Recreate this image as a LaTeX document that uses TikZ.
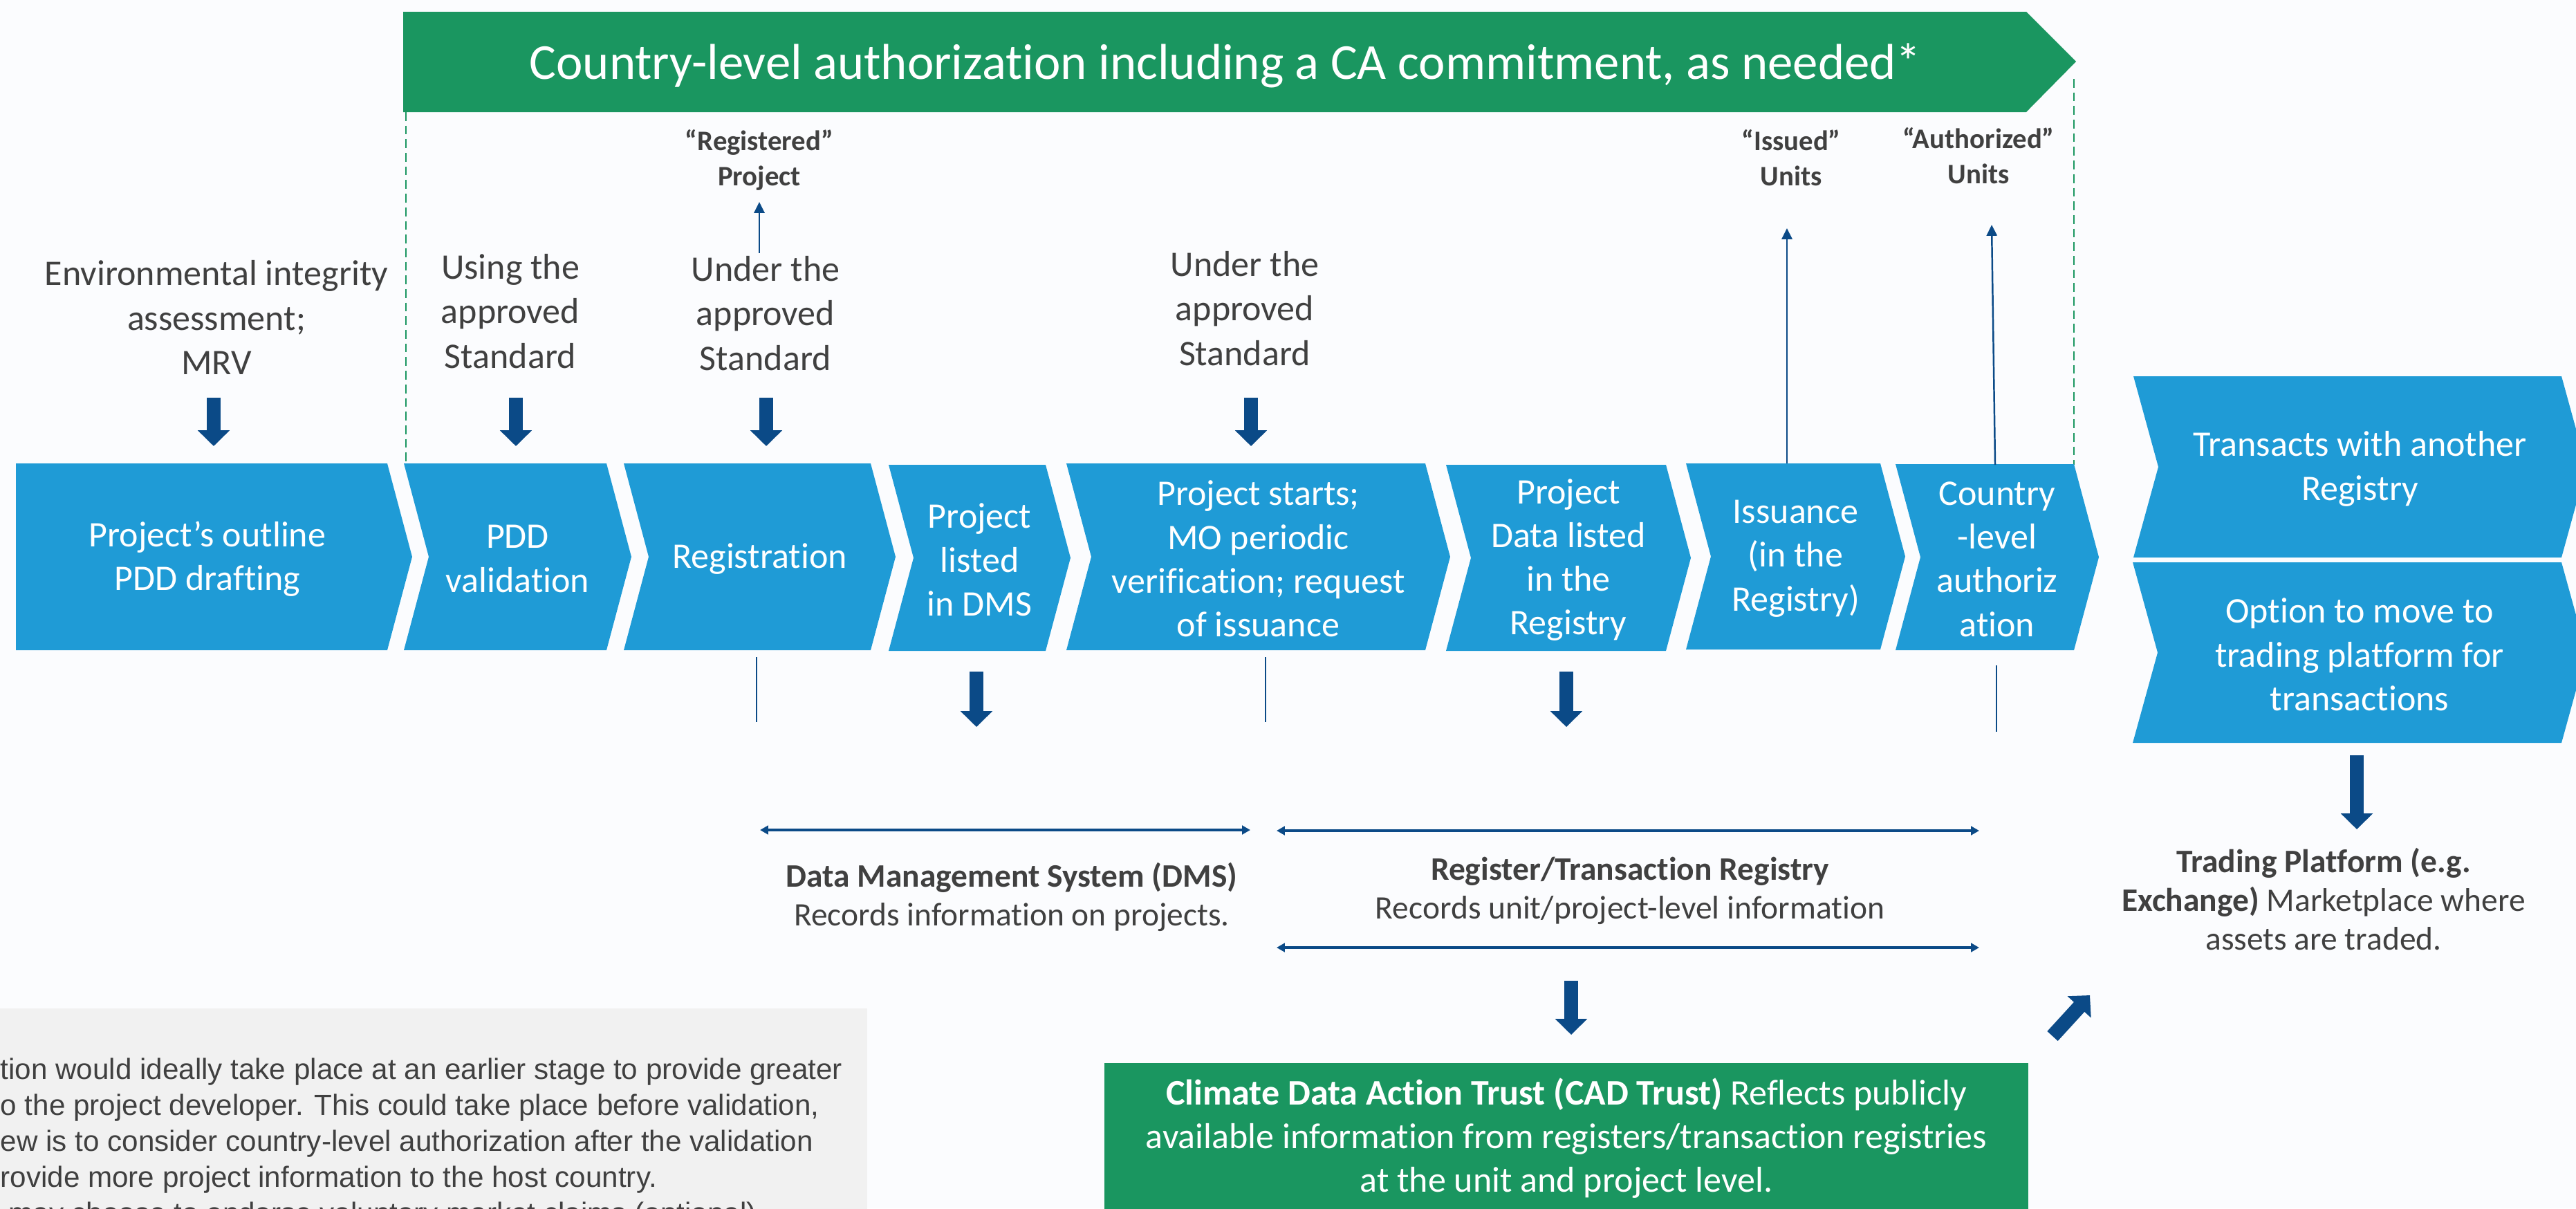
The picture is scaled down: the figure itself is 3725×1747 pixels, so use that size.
\documentclass[tikz,border=0pt]{standalone}
\usepackage{fontspec}
\setmainfont{Carlito}[Ligatures=NoCommon]
\newfontfamily\notefont{Liberation Sans}
\usetikzlibrary{arrows.meta}

\definecolor{chevblue}{RGB}{31,155,214}
\definecolor{bannergreen}{RGB}{26,150,96}
\definecolor{arrowblue}{RGB}{11,74,135}
\definecolor{textgray}{RGB}{64,64,64}
\definecolor{notegray}{RGB}{241,241,241}
\definecolor{pagebg}{RGB}{251,252,254}

\tikzset{
  bannertext/.style={text=white,inner sep=0pt,font=\fontsize{20.7}{24}\selectfont},
  chevtext/.style={text=white,align=center,inner sep=0pt,font=\fontsize{14.8}{18}\selectfont},
  annot/.style={text=textgray,align=center,inner sep=0pt,font=\fontsize{14.8}{18.4}\selectfont},
  unitlabel/.style={text=textgray,align=center,inner sep=0pt,font=\fontsize{11.6}{14.5}\selectfont\bfseries},
  infotext/.style={text=textgray,align=center,inner sep=0pt,font=\fontsize{13.5}{16}\selectfont},
  cadtext/.style={text=white,align=center,inner sep=0pt,font=\fontsize{14.8}{17.9}\selectfont},
  notetext/.style={text=textgray,align=left,inner sep=0pt,font=\notefont\fontsize{12}{14.8}\selectfont},
  bigarrow/.style={draw=arrowblue,line width=5.9pt,-{Triangle[width=12.8pt,length=6.5pt]}},
  thinarrow/.style={draw=arrowblue,line width=0.7pt,-{Triangle[width=4.3pt,length=4.5pt]}},
  spanarrow/.style={draw=arrowblue,line width=0.9pt,{Triangle[width=3.6pt,length=3.4pt]}-{Triangle[width=3.6pt,length=3.4pt]}},
  tick/.style={draw=arrowblue,line width=0.5pt},
  guide/.style={draw=bannergreen,line width=0.5pt,dash pattern=on 3.6pt off 2pt}
}

\begin{document}
\begin{tikzpicture}[x=0.01cm,y=-0.01cm]
\useasboundingbox (0,0) rectangle (3725,1747);
\clip (0,0) rectangle (3725,1747);
\fill[pagebg] (0,0) rectangle (3725,1747);

\fill[bannergreen] (583,17) -- (2930,17) -- (3002,89) -- (2930,162) -- (583,162) -- cycle;
\node[bannertext,anchor=base] (banner) at (1772,114) {Country-level authorization including a CA commitment, as needed*};
\draw[guide] (587,162) -- (587,670);
\draw[guide] (2999,114) -- (2999,672);

\fill[chevblue] (23,670) -- (560,670) -- (596,805) -- (560,940) -- (23,940) -- cycle;
\node[chevtext] (outline) at (300,808) {Project’s outline\\PDD drafting};
\foreach \xl/\xr/\yt/\yb/\nm/\txt in {
  584/877/670/940/pddval/{PDD\\validation},
  902/1259/670/940/registration/{Registration},
  1285/1512/672/941/listed/{Project\\listed\\in DMS},
  1542/2061/670/940/starts/{Project starts;\\MO periodic\\verification; request\\of issuance},
  2091/2409/672/941/datalisted/{Project\\Data listed\\in the\\Registry},
  2438/2719/670/939/issuance/{Issuance\\(in the\\Registry)},
  2741/2999/671/940/ctryauth/{Country\\-level\\authoriz\\ation},
  3085/3704/544/806/transacts/{Transacts with another\\Registry},
  3084/3704/813/1074/option/{Option to move to\\trading platform for\\transactions}}
{
  \fill[chevblue] (\xl,\yt) -- (\xr,\yt) -- ({\xr+36},{(\yt+\yb)/2}) -- (\xr,\yb) -- (\xl,\yb) -- ({\xl+36},{(\yt+\yb)/2}) -- cycle;
  \node[chevtext] (\nm) at ({(\xl+\xr+36)/2},{(\yt+\yb)/2+3}) {\txt};
}

\node[annot] (env) at (313,459) {Environmental integrity\\assessment;\\MRV};
\node[annot] (usingstd) at (738,450) {Using the\\approved\\Standard};
\node[annot] (understd) at (1107,453) {Under the\\approved\\Standard};
\node[annot] (understdb) at (1800,446) {Under the\\approved\\Standard};
\node[unitlabel] (regproj) at (1098,231) {“Registered”\\Project};
\node[unitlabel] (issued) at (2590,228) {“Issued”\\Units};
\node[unitlabel] (authunits) at (2861,225) {“Authorized”\\Units};

\coordinate (regfoot) at (1098,366);
\coordinate (reghead) at (1098,292);
\coordinate (issfoot) at (2584,670);
\coordinate (isshead) at (2584,330);
\coordinate (authfoot) at (2885,672);
\coordinate (authhead) at (2880,325);
\draw[thinarrow] (regfoot) -- (reghead);
\draw[thinarrow] (issfoot) -- (isshead);
\draw[thinarrow] (authfoot) -- (authhead);

\draw[tick] (1094,950) -- (1094,1044);
\draw[tick] (1830,950) -- (1830,1044);
\draw[tick] (2887,962) -- (2887,1058);

\coordinate (dmsleft) at (1099,1200);
\coordinate (dmsright) at (1808,1200);
\coordinate (regleft) at (1846,1201);
\coordinate (regright) at (2862,1201);
\coordinate (regleftb) at (1846,1370);
\coordinate (regrightb) at (2862,1370);
\draw[spanarrow] (dmsleft) -- (dmsright);
\draw[spanarrow] (regleft) -- (regright);
\draw[spanarrow] (regleftb) -- (regrightb);

\node[infotext] (dms) at (1463,1297) {\textbf{Data Management System (DMS)}\\Records information on projects.};
\node[infotext] (registry) at (2357,1288) {\textbf{Register/Transaction Registry}\\Records unit/project-level information};
\node[infotext] (trading) at (3360,1300) {\textbf{Trading Platform (e.g.}\\\textbf{Exchange)} Marketplace where\\assets are traded.};

\fill[bannergreen] (1597,1537) rectangle (2933,1800);
\node[cadtext] (cadtrust) at (2265,1646) {\textbf{Climate Data Action Trust (CAD Trust)} Reflects publicly\\available information from registers/transaction registries\\at the unit and project level.};

\fill[notegray] (-10,1458) rectangle (1254,1800);
\node[notetext,anchor=north west] (note) at (0,1529) {tion would ideally take place at an earlier stage to provide greater\\o the project developer. This could take place before validation,\\ew is to consider country-level authorization after the validation\\rovide more project information to the host country.\\\ may choose to endorse voluntary market claims (optional).};

\foreach \x/\ya/\yb [count=\i] in {309/575/645,746/575/645,1108/575/645,1809/575/645,1412/971/1051,2265/971/1051,2272/1418/1496,3408/1092/1199}
{
  \coordinate (down\i a) at (\x,\ya);
  \coordinate (down\i b) at (\x,\yb);
  \draw[bigarrow] (down\i a) -- (down\i b);
}
\coordinate (cadout) at (2968,1498);
\coordinate (tradein) at (3022,1439);
\draw[bigarrow] (cadout) -- (tradein);
\end{tikzpicture}
\end{document}
